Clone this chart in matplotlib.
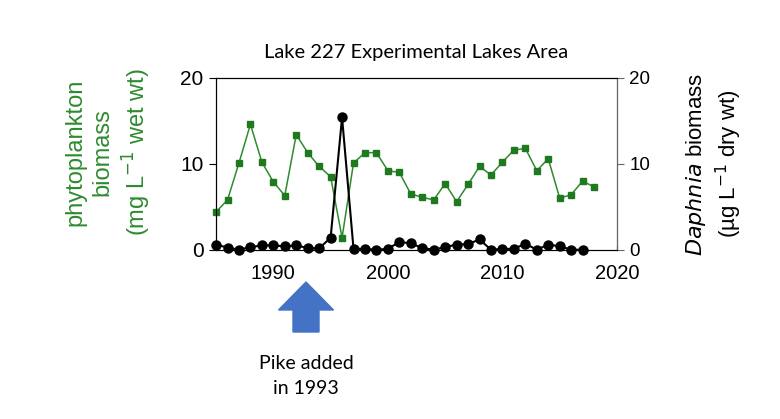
import matplotlib
matplotlib.use("Agg")
import matplotlib.pyplot as plt
from matplotlib.patches import FancyArrow
from matplotlib.transforms import IdentityTransform

# Lake 227 time series
years_phyto = list(range(1985, 2019))
phyto = [4.4, 5.8, 10.1, 14.6, 10.2, 7.9, 6.3, 13.4, 11.3, 9.7, 8.5, 1.4,
         10.1, 11.3, 11.3, 9.2, 9.0, 6.5, 6.1, 5.8, 7.7, 5.6, 7.6, 9.7,
         8.7, 10.2, 11.6, 11.8, 9.2, 10.6, 6.0, 6.4, 8.0, 7.3]

years_daph = list(range(1985, 2018))
daphnia = [0.6, 0.25, 0.0, 0.3, 0.5, 0.5, 0.4, 0.5, 0.2, 0.15, 1.4, 15.4,
           0.1, 0.1, 0.0, 0.1, 0.9, 0.75, 0.2, 0.0, 0.3, 0.6, 0.65, 1.2,
           0.0, 0.1, 0.1, 0.7, 0.0, 0.6, 0.4, 0.0, 0.0]

xticks = [1990, 2000, 2010, 2020]
yticks = [0, 10, 20]

GREEN = '#2E8B2E'
MARKER_GREEN = '#1F7A1F'
BLUE = '#4472C4'
W, H = 780, 419

plt.rcParams['font.family'] = ['Liberation Sans', 'DejaVu Sans']

fig = plt.figure(figsize=(7.8, 4.19), dpi=100)
ax = fig.add_axes([0.277, 0.404, 0.514, 0.410])
ax2 = ax.twinx()

ax.plot(years_phyto, phyto, color=GREEN, lw=1.1, marker='s', ms=4,
        mfc=MARKER_GREEN, mec=MARKER_GREEN, zorder=3, clip_on=False)
ax2.plot(years_daph, daphnia, color='black', lw=1.5, marker='o', ms=6.5,
         mfc='black', mec='black', zorder=4, clip_on=False)

for a in (ax, ax2):
    a.set_xlim(1985, 2020)
    a.set_ylim(0, 20)
    a.set_yticks(yticks)

ax.set_xticks(xticks)
ax.tick_params(axis='x', direction='in', length=3, labelsize=14.5, pad=10)
ax.tick_params(axis='y', direction='out', length=5, labelsize=15, pad=4)
ax2.tick_params(axis='y', direction='out', length=5, labelsize=13.5, pad=4,
                color='#666666')
ax2.spines['right'].set_color('#666666')

ax.set_title('Lake 227 Experimental Lakes Area', fontsize=14.5,
             family=['Lato', 'DejaVu Sans'], pad=14)

# axis titles placed in figure pixels, as in the source slide
fig.text(109 / W, 1 - 152 / H, 'phytoplankton\nbiomass\n(mg L$^{-1}$ wet wt)',
         color=GREEN, fontsize=17, linespacing=1.3, rotation=90,
         ha='center', va='center', multialignment='center')
fig.text(714 / W, 1 - 164 / H, '$\\it{Daphnia}$ biomass\n(µg L$^{-1}$ dry wt)',
         fontsize=16, linespacing=1.3, rotation=90,
         ha='center', va='center', multialignment='center')

# blue arrow marking the pike introduction (pixel coordinates)
arrow = FancyArrow(306, H - 332, 0, 50, width=26, head_width=55,
                   head_length=28, length_includes_head=True,
                   color=BLUE, transform=IdentityTransform())
fig.patches.append(arrow)

fig.text(306 / W, 1 - 363 / H, 'Pike added', ha='center', va='center',
         fontsize=14, family=['Lato', 'DejaVu Sans'])
fig.text(306 / W, 1 - 388 / H, 'in 1993', ha='center', va='center',
         fontsize=14, family=['Lato', 'DejaVu Sans'])

fig.savefig('out.png', dpi=100)
